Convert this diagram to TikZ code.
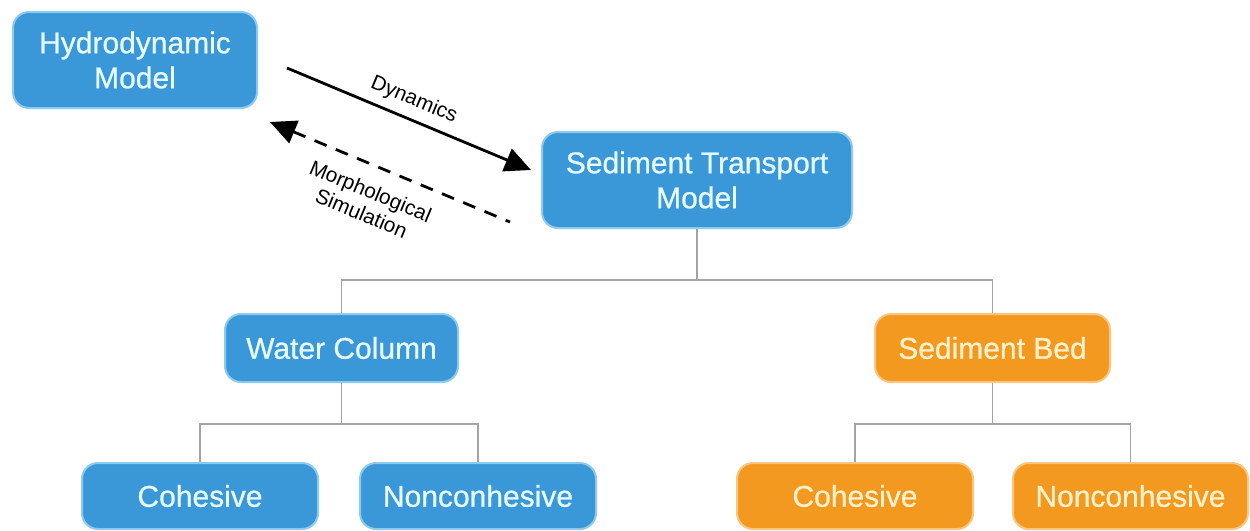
\documentclass[tikz,border=0pt]{standalone}
\usepackage{fontspec}
\setmainfont{Liberation Sans}
\newfontfamily\boxfont{Liberation Sans}[FakeBold=0.8]
\usetikzlibrary{arrows.meta}
\definecolor{boxblue}{HTML}{3A98D8}
\definecolor{blueedge}{HTML}{8CCBEE}
\definecolor{bluetext}{HTML}{E6FAFF}
\definecolor{boxorange}{HTML}{F4991F}
\definecolor{orangeedge}{HTML}{FAC682}
\definecolor{orangetext}{HTML}{FFF1CC}
\definecolor{treegray}{HTML}{A4A4A4}
\begin{document}
\begin{tikzpicture}[x=0.5pt,y=-0.5pt,
  >={Triangle[length=13pt,width=12pt]},
  box/.style={rectangle, rounded corners=8pt, line width=1pt, align=center,
    inner sep=0pt, font=\boxfont\fontsize{15}{17.5}\selectfont},
  bluebox/.style={box, fill=boxblue, draw=blueedge, text=bluetext},
  orangebox/.style={box, fill=boxorange, draw=orangeedge, text=orangetext},
  tree/.style={draw=treegray, line width=0.6pt},
  flow/.style={line width=1.4pt},
  flowlabel/.style={font=\fontsize{10.4}{12}\selectfont, sloped,
    inner sep=1pt, align=center}]
\useasboundingbox (0,0) rectangle (1250,531);

% model boxes
\node[bluebox, minimum width=122pt, minimum height=48pt] (hydro) at (135,60) {Hydrodynamic\\Model};
\node[bluebox, minimum width=155pt, minimum height=48pt] (stm) at (697,180) {Sediment Transport\\Model};

% second level
\node[bluebox, minimum width=116.5pt, minimum height=34pt] (wc) at (341.5,348) {Water Column};
\node[orangebox, minimum width=117.5pt, minimum height=34pt] (sb) at (992.5,348) {Sediment Bed};

% third level
\node[bluebox, minimum width=118pt, minimum height=33pt] (c1) at (200,496) {Cohesive};
\node[bluebox, minimum width=118pt, minimum height=33pt] (n1) at (478,496) {Nonconhesive};
\node[orangebox, minimum width=118pt, minimum height=33pt] (c2) at (855,496) {Cohesive};
\node[orangebox, minimum width=117.5pt, minimum height=33pt] (n2) at (1130.5,496) {Nonconhesive};

% coupling arrows between the two models
\coordinate (dynA) at (287,68);
\coordinate (dynB) at (531,170);
\coordinate (morA) at (270,122);
\coordinate (morB) at (510,222);
\draw[flow, ->] (dynA) -- (dynB)
  node[flowlabel, above=3pt, pos=0.49] {Dynamics};
\draw[flow, <-, dash pattern=on 6.5pt off 5pt] (morA) -- (morB)
  node[flowlabel, below=7pt, pos=0.46] {Morphological\\Simulation};

% tree connectors
\coordinate (bus1) at (697,280);
\coordinate (bus2) at (341.5,424);
\coordinate (bus3) at (992.5,424);
\draw[tree] (stm.south) -- (bus1);
\draw[tree] (wc.north) |- (bus1) -| (sb.north);
\draw[tree] (wc.south) -- (bus2);
\draw[tree] (c1.north) |- (bus2) -| (n1.north);
\draw[tree] (sb.south) -- (bus3);
\draw[tree] (c2.north) |- (bus3) -| (n2.north);
\end{tikzpicture}
\end{document}
